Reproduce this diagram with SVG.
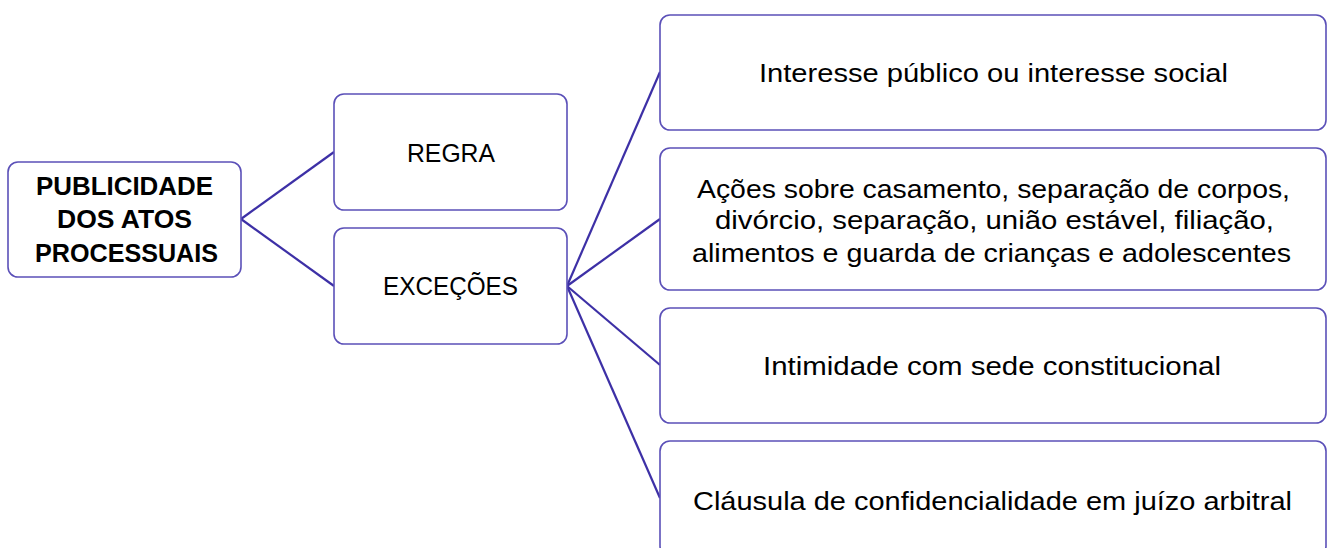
<svg xmlns="http://www.w3.org/2000/svg" width="1330" height="548" viewBox="0 0 1330 548">
<style>
.box{fill:#ffffff;stroke:#5b50b8;stroke-width:1.6}
.t{font-family:"Liberation Sans",Arial,sans-serif;font-size:25px;fill:#000;text-anchor:middle}
.b{font-weight:bold}
.c{stroke:#3d30a6;stroke-width:2.2;fill:none}
</style>
<rect width="1330" height="548" fill="#ffffff"/>
<g id="connectors">
<line class="c" x1="241" y1="219" x2="334" y2="152"/>
<line class="c" x1="241" y1="219" x2="334" y2="286"/>
<line class="c" x1="567" y1="286" x2="660" y2="72"/>
<line class="c" x1="567" y1="286" x2="660" y2="219"/>
<line class="c" x1="567" y1="286" x2="660" y2="365"/>
<line class="c" x1="567" y1="286" x2="660" y2="498"/>
</g>
<g id="root">
<rect class="box" x="8" y="162" width="233" height="115" rx="10"/>
<text class="t b" x="124.5" y="195" textLength="177" lengthAdjust="spacingAndGlyphs">PUBLICIDADE</text>
<text class="t b" x="124.5" y="228" textLength="135" lengthAdjust="spacingAndGlyphs">DOS ATOS</text>
<text class="t b" x="126.5" y="262" textLength="183" lengthAdjust="spacingAndGlyphs">PROCESSUAIS</text>
</g>
<g id="regra">
<rect class="box" x="334" y="94" width="233" height="116" rx="10"/>
<text class="t" x="451" y="162" textLength="88" lengthAdjust="spacingAndGlyphs">REGRA</text>
</g>
<g id="excecoes">
<rect class="box" x="334" y="228" width="233" height="116" rx="10"/>
<text class="t" x="450.5" y="295" textLength="135" lengthAdjust="spacingAndGlyphs">EXCEÇÕES</text>
</g>
<g id="interesse">
<rect class="box" x="660" y="15" width="666" height="115" rx="10"/>
<text class="t" x="993.5" y="82" textLength="469" lengthAdjust="spacingAndGlyphs">Interesse público ou interesse social</text>
</g>
<g id="acoes">
<rect class="box" x="660" y="148" width="666" height="142" rx="10"/>
<text class="t" x="993.5" y="198" textLength="593" lengthAdjust="spacingAndGlyphs">Ações sobre casamento, separação de corpos,</text>
<text class="t" x="994.5" y="229" textLength="559" lengthAdjust="spacingAndGlyphs">divórcio, separação, união estável, filiação,</text>
<text class="t" x="991.5" y="262" textLength="599" lengthAdjust="spacingAndGlyphs">alimentos e guarda de crianças e adolescentes</text>
</g>
<g id="intimidade">
<rect class="box" x="660" y="308" width="666" height="115" rx="10"/>
<text class="t" x="992" y="375" textLength="458" lengthAdjust="spacingAndGlyphs">Intimidade com sede constitucional</text>
</g>
<g id="clausula">
<rect class="box" x="660" y="441" width="666" height="115" rx="10"/>
<text class="t" x="992.5" y="510" textLength="599" lengthAdjust="spacingAndGlyphs">Cláusula de confidencialidade em juízo arbitral</text>
</g>
</svg>
